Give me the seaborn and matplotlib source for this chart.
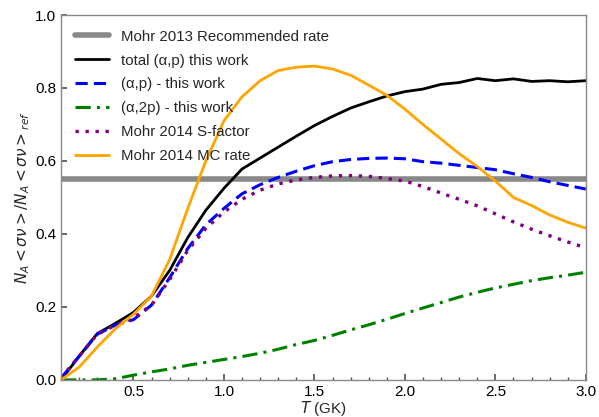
import numpy as np
import pandas as pd
import matplotlib
matplotlib.use("Agg")
import matplotlib.pyplot as plt
import seaborn as sns
from matplotlib.ticker import MultipleLocator

# Temperature grid (GK)
T = [0.1, 0.2, 0.3, 0.4, 0.5, 0.6, 0.7, 0.8, 0.9, 1.0,
     1.1, 1.2, 1.3, 1.4, 1.5, 1.6, 1.7, 1.8, 1.9, 2.0,
     2.1, 2.2, 2.3, 2.4, 2.5, 2.6, 2.7, 2.8, 2.9, 3.0]

# Rate ratios relative to the reference rate
total_ap = [0.0, 0.065, 0.127, 0.155, 0.185, 0.23, 0.30, 0.39, 0.465, 0.525,
            0.578, 0.608, 0.638, 0.668, 0.697, 0.722, 0.745, 0.762, 0.778, 0.79,
            0.797, 0.81, 0.815, 0.826, 0.82, 0.825, 0.818, 0.82, 0.817, 0.82]
ap = [0.005, 0.065, 0.125, 0.15, 0.165, 0.205, 0.28, 0.36, 0.425, 0.47,
      0.51, 0.535, 0.555, 0.572, 0.587, 0.598, 0.604, 0.607, 0.608, 0.606,
      0.598, 0.594, 0.588, 0.582, 0.576, 0.565, 0.555, 0.543, 0.533, 0.523]
a2p = [0.0, 0.0, 0.0, 0.003, 0.013, 0.022, 0.03, 0.04, 0.048, 0.056,
       0.064, 0.073, 0.084, 0.097, 0.108, 0.122, 0.137, 0.151, 0.166, 0.182,
       0.197, 0.212, 0.227, 0.24, 0.252, 0.262, 0.272, 0.28, 0.287, 0.295]
sfactor = [0.005, 0.065, 0.125, 0.15, 0.17, 0.205, 0.275, 0.355, 0.415, 0.46,
           0.495, 0.52, 0.537, 0.548, 0.555, 0.559, 0.56, 0.558, 0.552, 0.545,
           0.53, 0.512, 0.495, 0.477, 0.455, 0.433, 0.413, 0.395, 0.378, 0.362]
mc_rate = [0.0, 0.035, 0.09, 0.14, 0.18, 0.23, 0.33, 0.47, 0.6, 0.71,
           0.776, 0.82, 0.848, 0.857, 0.86, 0.852, 0.835, 0.808, 0.78, 0.742,
           0.70, 0.66, 0.62, 0.585, 0.545, 0.5, 0.478, 0.452, 0.432, 0.416]
recommended = 0.55

sns.set_theme(style="ticks")
plt.rcParams["font.family"] = ["Liberation Sans", "DejaVu Sans"]
plt.rcParams["mathtext.fontset"] = "dejavusans"

fig, ax = plt.subplots(figsize=(5.99, 4.17), dpi=100)
fig.subplots_adjust(left=0.102, right=0.978, bottom=0.089, top=0.964)

ax.axhline(recommended, color="#888888", lw=4.0, label="Mohr 2013 Recommended rate", zorder=1)
sns.lineplot(x=T, y=total_ap, ax=ax, color="black", lw=2.0, label="total (α,p) this work")
sns.lineplot(x=T, y=ap, ax=ax, color="blue", lw=2.2, label="(α,p) - this work",
             dashes=False, linestyle=(0, (4, 2)))
sns.lineplot(x=T, y=a2p, ax=ax, color="green", lw=2.2, label="(α,2p) - this work",
             linestyle=(0, (5, 2, 1, 2)))
sns.lineplot(x=T, y=sfactor, ax=ax, color="purple", lw=2.4, label="Mohr 2014 S-factor",
             linestyle=(0, (1, 2)))
sns.lineplot(x=T, y=mc_rate, ax=ax, color="orange", lw=2.0, label="Mohr 2014 MC rate")

ax.set_xlim(0.1, 3.0)
ax.set_ylim(0.0, 1.0)
ax.xaxis.set_major_locator(MultipleLocator(0.5))
ax.xaxis.set_minor_locator(MultipleLocator(0.1))
ax.yaxis.set_major_locator(MultipleLocator(0.2))
ax.tick_params(which="both", direction="in", colors="#555555", labelcolor="black", labelsize=11)
ax.tick_params(which="major", length=4)
ax.tick_params(which="minor", length=2)
for s in ax.spines.values():
    s.set_color("#888888")
    s.set_linewidth(1.0)

ax.set_xlabel(r"$T$ (GK)", fontsize=11, labelpad=0)
ax.set_ylabel(r"$N_A<\sigma\nu>/N_A<\sigma\nu>_{ref}$", fontsize=11, labelpad=2)

leg = ax.legend(loc="upper left", frameon=False, fontsize=10.8, handlelength=2.3,
                labelspacing=0.66, borderaxespad=0.5, handletextpad=0.8,
                bbox_to_anchor=(0.0, 0.997))

fig.savefig("out.png", dpi=100)
